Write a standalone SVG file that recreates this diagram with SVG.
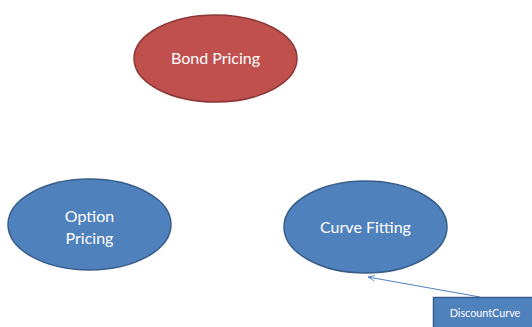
<svg xmlns="http://www.w3.org/2000/svg" width="532" height="327" viewBox="0 0 532 327">
<style>
.blue{fill:#4f81bd;stroke:#385d8a;stroke-width:1.5}
.red{fill:#c0504d;stroke:#8c3836;stroke-width:1.5}
.t{font-family:Lato,"Open Sans",sans-serif;font-size:16px;fill:#ffffff;text-anchor:middle}
.s{font-family:Lato,"Open Sans",sans-serif;font-size:10.8px;fill:#ffffff;text-anchor:middle}
.c{stroke:#4f81bd;stroke-width:1;fill:none}
</style>
<defs>
<marker id="arr" viewBox="0 0 10 10" refX="10" refY="5" markerWidth="7" markerHeight="7" orient="auto" markerUnits="userSpaceOnUse">
<path d="M0,1 L10,5 L0,9" fill="none" stroke="#4f81bd" stroke-width="1.2"/>
</marker>
</defs>
<g id="connectors">
<line class="c" x1="480" y1="297" x2="368" y2="277" marker-end="url(#arr)"/>
</g>
<g id="bond">
<ellipse class="red" cx="215.5" cy="58.5" rx="81.5" ry="43.5"/>
<text class="t" x="215.5" y="63.5">Bond Pricing</text>
</g>
<g id="option">
<ellipse class="blue" cx="89.5" cy="224.5" rx="81.5" ry="45.5"/>
<text class="t" x="89.5" y="221.5">Option</text>
<text class="t" x="89.5" y="243.5">Pricing</text>
</g>
<g id="curve">
<ellipse class="blue" cx="365.5" cy="227" rx="81.5" ry="46"/>
<text class="t" x="365.5" y="232.5">Curve Fitting</text>
</g>
<g id="discount">
<rect class="blue" x="433.5" y="297.5" width="110" height="40"/>
<text class="s" x="485" y="317">DiscountCurve</text>
</g>
</svg>
